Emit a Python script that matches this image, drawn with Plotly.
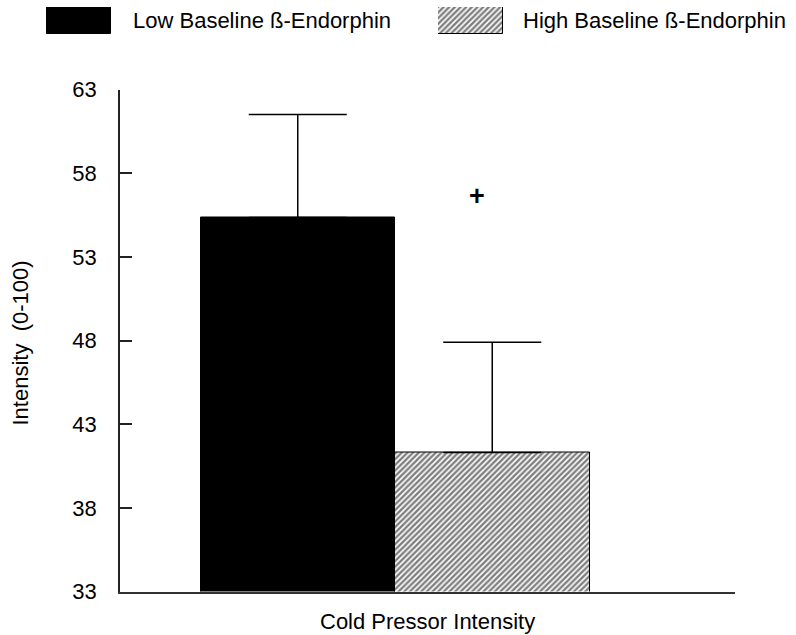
import plotly.graph_objects as go

# ---- data ----
groups = ["Low Baseline ß-Endorphin", "High Baseline ß-Endorphin"]
category = ["Cold Pressor Intensity"]
means = [55.35, 41.3]
sem_upper = [6.15, 6.6]
y_ticks = [33, 38, 43, 48, 53, 58, 63]
sig_mark = "+"
sig_value = 56.65

W, H = 796, 635
FONT = "Liberation Sans, Arial, sans-serif"
FS = 22

def px_x(p):
    return p / W

def px_y(p):
    return 1 - p / H

fills = [
    dict(color="black", line=dict(color="black", width=1)),
    dict(color="white", line=dict(color="black", width=1),
         pattern=dict(shape="/", size=4, solidity=0.6, fgcolor="black", bgcolor="white")),
]

fig = go.Figure()
for i, g in enumerate(groups):
    fig.add_trace(go.Bar(
        name=g, x=category, y=[means[i]],
        marker=fills[i],
        error_y=dict(type="data", array=[sem_upper[i]], arrayminus=[0], symmetric=False,
                     color="black", thickness=1.5, width=49),
        showlegend=False, xaxis="x", yaxis="y",
    ))

# legend swatches drawn as bars in tiny axes
sw_x = [(46, 111), (438, 503)]
sw_y = (7, 34)
for i, g in enumerate(groups):
    ax = i + 2
    fig.add_trace(go.Bar(x=[0], y=[1], width=[1], marker=fills[i], showlegend=False,
                         xaxis=f"x{ax}", yaxis=f"y{ax}", hoverinfo="skip"))
    fig.update_layout(**{
        f"xaxis{ax}": dict(domain=[px_x(sw_x[i][0]), px_x(sw_x[i][1])], range=[-0.5, 0.5],
                           visible=False, anchor=f"y{ax}", fixedrange=True, automargin=False),
        f"yaxis{ax}": dict(domain=[px_y(sw_y[1]), px_y(sw_y[0])], range=[0, 1],
                           visible=False, anchor=f"x{ax}", fixedrange=True, automargin=False),
    })

legend_text_x = [131, 521]
for i, g in enumerate(groups):
    fig.add_annotation(text=g, xref="paper", yref="paper", x=px_x(legend_text_x[i]),
                       y=px_y(20.5), xanchor="left", yanchor="middle", showarrow=False,
                       font=dict(family=FONT, size=FS, color="black"))

plot_l, plot_r, plot_t, plot_b = 120, 735, 89.5, 591.5
center_px = 395
unit = 389.0

fig.update_layout(
    width=W, height=H,
    margin=dict(l=0, r=0, t=0, b=0, autoexpand=False),
    paper_bgcolor="white", plot_bgcolor="white",
    barmode="group", bargap=0, bargroupgap=0,
    font=dict(family=FONT, size=FS, color="black"),
    showlegend=False,
    xaxis=dict(domain=[px_x(plot_l), px_x(plot_r)],
               range=[(plot_l - center_px) / unit, (plot_r - center_px) / unit],
               showticklabels=False, ticks="", showline=True, linecolor="#333", linewidth=1.5,
               showgrid=False, zeroline=False, anchor="y", automargin=False),
    yaxis=dict(domain=[1 - plot_b / H, 1 - plot_t / H], range=[33, 63],
               tickvals=y_ticks, ticks="inside", ticklen=12, tickwidth=1.5, tickcolor="#222",
               showline=True, linecolor="#222", linewidth=1.5, showgrid=False, zeroline=False,
               ticklabelstandoff=17, tickfont=dict(family=FONT, size=FS), anchor="x",
               automargin=False),
)

# significance mark
fig.add_annotation(text="<b>" + sig_mark + "</b>", x=(477 - center_px) / unit, y=sig_value,
                   xref="x", yref="y", showarrow=False,
                   font=dict(family=FONT, size=FS + 5, color="black"))

# axis titles
fig.add_annotation(text="Cold Pressor Intensity", xref="paper", yref="paper",
                   x=px_x((plot_l + plot_r) / 2), y=px_y(621), xanchor="center", yanchor="middle",
                   showarrow=False, font=dict(family=FONT, size=FS))
fig.add_annotation(text="Intensity  (0-100)", xref="paper", yref="paper",
                   x=px_x(20), y=px_y(343.5), textangle=-90, xanchor="center", yanchor="middle",
                   showarrow=False, font=dict(family=FONT, size=FS))

fig.write_html("out.html")
